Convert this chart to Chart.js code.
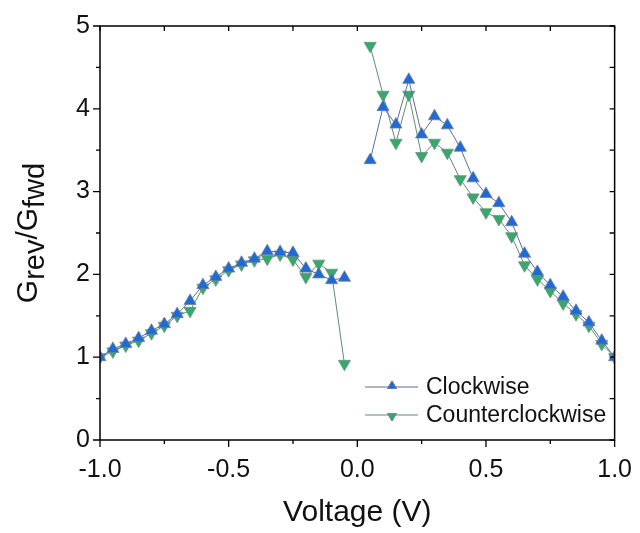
<!DOCTYPE html>
<html>
<head>
<meta charset="utf-8">
<script src="https://cdn.jsdelivr.net/npm/chart.js@4/dist/chart.umd.min.js"></script>
<style>
  body { margin: 0; background: #fff; }
  #wrap { width: 640px; height: 533px; }
</style>
</head>
<body>
<div id="wrap"><canvas id="ratioChart" width="640" height="533"></canvas></div>
<script>
// voltage steps, left branch (-1.0 .. -0.05) and right branch (0.05 .. 1.0)
const voltage = [-1.0, -0.95, -0.9, -0.85, -0.8, -0.75, -0.7, -0.65, -0.6, -0.55,
                 -0.5, -0.45, -0.4, -0.35, -0.3, -0.25, -0.2, -0.15, -0.1, -0.05,
                 0.0,
                 0.05, 0.1, 0.15, 0.2, 0.25, 0.3, 0.35, 0.4, 0.45, 0.5,
                 0.55, 0.6, 0.65, 0.7, 0.75, 0.8, 0.85, 0.9, 0.95, 1.0];

// null at 0.0 breaks the line between the two branches
const clockwise = [1.0, 1.10, 1.16, 1.23, 1.32, 1.40, 1.52, 1.68, 1.87, 1.97,
                   2.07, 2.14, 2.19, 2.28, 2.27, 2.26, 2.07, 2.00, 1.93, 1.96,
                   null,
                   3.38, 4.02, 3.81, 4.35, 3.69, 3.91, 3.80, 3.53, 3.16, 2.97,
                   2.86, 2.63, 2.25, 2.03, 1.87, 1.73, 1.56, 1.42, 1.20, 1.0];

const counterclockwise = [1.0, 1.07, 1.14, 1.20, 1.29, 1.38, 1.50, 1.56, 1.84, 1.94,
                          2.05, 2.12, 2.17, 2.19, 2.24, 2.18, 1.97, 2.13, 2.02, 0.92,
                          null,
                          4.76, 4.17, 3.59, 4.17, 3.43, 3.59, 3.47, 3.15, 2.93, 2.75,
                          2.67, 2.46, 2.11, 1.94, 1.80, 1.65, 1.52, 1.38, 1.16, 1.0];

const xTicks = [-1.0, -0.5, 0.0, 0.5, 1.0];
const yTicks = [0, 1, 2, 3, 4, 5];
const seriesNames = ['Clockwise', 'Counterclockwise'];

const FONT = 'Arial, "Liberation Sans", sans-serif';

function toPoints(ys) {
    return voltage.map(function (v, i) { return { x: v, y: ys[i] }; });
}

function isMajor(list, value) {
    return list.some(function (t) { return Math.abs(t - value) < 1e-6; });
}

// frame + ticks (major/minor), y title with subscripts, legend inside plot
var framePlugin = {
    id: 'frame',
    afterDraw: function (chart) {
        var ctx = chart.ctx;
        var area = chart.chartArea;
        var xs = chart.scales.x;
        var ys = chart.scales.y;
        ctx.save();
        ctx.strokeStyle = '#000';
        ctx.lineWidth = 1.5;
        ctx.beginPath();
        ctx.rect(area.left, area.top, area.right - area.left, area.bottom - area.top);
        ctx.stroke();

        ctx.lineWidth = 1.3;
        ctx.beginPath();
        for (var k = 0; k <= 8; k++) {
            var v = -1 + k * 0.25;
            var px = xs.getPixelForValue(v);
            var len = isMajor(xTicks, v) ? 7 : 4;
            ctx.moveTo(px, area.bottom);
            ctx.lineTo(px, area.bottom + len);
            ctx.moveTo(px, area.top);
            ctx.lineTo(px, area.top + 5);
        }
        for (var j = 0; j <= 10; j++) {
            var w = j * 0.5;
            var py = ys.getPixelForValue(w);
            var ylen = isMajor(yTicks, w) ? 7 : 4;
            ctx.moveTo(area.left, py);
            ctx.lineTo(area.left - ylen, py);
            ctx.moveTo(area.right, py);
            ctx.lineTo(area.right - 5, py);
        }
        ctx.stroke();

        // y axis title: G_rev / G_fwd (subscripts about as big as the G)
        ctx.translate(27, (area.top + area.bottom) / 2);
        ctx.rotate(-Math.PI / 2);
        ctx.fillStyle = '#111';
        ctx.textBaseline = 'alphabetic';
        var big = '30px ' + FONT, small = '29px ' + FONT;
        var parts = [['G', big, 0], ['rev', small, 7], ['/G', big, 0], ['fwd', small, 7]];
        var total = 0;
        parts.forEach(function (p) { ctx.font = p[1]; total += ctx.measureText(p[0]).width; });
        var cx = -total / 2;
        parts.forEach(function (p) {
            ctx.font = p[1];
            ctx.fillText(p[0], cx, 10 + p[2]);
            cx += ctx.measureText(p[0]).width;
        });
        ctx.restore();

        // legend
        ctx.save();
        var rows = [387, 415];
        chart.data.datasets.forEach(function (ds, i) {
            var y = rows[i];
            ctx.strokeStyle = ds.borderColor;
            ctx.lineWidth = 1;
            ctx.beginPath();
            ctx.moveTo(365, y);
            ctx.lineTo(418, y);
            ctx.stroke();
            Chart.helpers.drawPoint(ctx, {
                pointStyle: 'triangle',
                radius: 5,
                rotation: ds.pointRotation,
                borderWidth: 0.8
            }, 392, y + (i === 0 ? -1 : 1));
            ctx.fillStyle = ds.pointBackgroundColor;
            ctx.strokeStyle = ds.pointBorderColor;
            ctx.fill();
            ctx.stroke();
            ctx.fillStyle = '#111';
            ctx.font = '23px ' + FONT;
            ctx.textBaseline = 'middle';
            ctx.fillText(seriesNames[i], 426, y + 1);
        });
        ctx.restore();
    }
};

var ratioConfig = {
    type: 'line',
    data: {
        datasets: [{
            label: seriesNames[0],
            data: toPoints(clockwise),
            borderColor: '#5b6f98',
            borderWidth: 1,
            pointStyle: 'triangle',
            pointRotation: 0,
            pointRadius: 7,
            pointBackgroundColor: '#1f6ad6',
            pointBorderColor: '#6d7f9c',
            pointBorderWidth: 0.8,
            spanGaps: false,
            fill: false
        }, {
            label: seriesNames[1],
            data: toPoints(counterclockwise),
            borderColor: '#5e8b78',
            borderWidth: 1,
            pointStyle: 'triangle',
            pointRotation: 180,
            pointRadius: 7,
            pointBackgroundColor: '#36a86a',
            pointBorderColor: '#6c9284',
            pointBorderWidth: 0.8,
            spanGaps: false,
            fill: false
        }]
    },
    options: {
        responsive: false,
        animation: false,
        layout: { padding: { top: 26, right: 23, left: 0, bottom: 0 } },
        plugins: {
            legend: { display: false },
            tooltip: { enabled: false }
        },
        scales: {
            x: {
                type: 'linear',
                min: -1,
                max: 1,
                afterBuildTicks: function (scale) {
                    scale.ticks = xTicks.map(function (v) { return { value: v }; });
                },
                afterFit: function (scale) { scale.height = 93; },
                grid: { drawOnChartArea: false, color: 'rgba(0,0,0,0)', tickLength: 7 },
                border: { display: false },
                ticks: {
                    color: '#111',
                    font: { family: FONT, size: 25 },
                    padding: 8,
                    maxRotation: 0,
                    callback: function (value) { return value.toFixed(1); }
                },
                title: {
                    display: true,
                    text: 'Voltage (V)',
                    color: '#111',
                    font: { family: FONT, size: 30 },
                    padding: { top: 4, bottom: 2 }
                }
            },
            y: {
                type: 'linear',
                min: 0,
                max: 5,
                afterBuildTicks: function (scale) {
                    scale.ticks = yTicks.map(function (v) { return { value: v }; });
                },
                afterFit: function (scale) { scale.width = 100; },
                grid: { drawOnChartArea: false, color: 'rgba(0,0,0,0)', tickLength: 7 },
                border: { display: false },
                ticks: {
                    color: '#111',
                    font: { family: FONT, size: 25 },
                    padding: 3,
                    callback: function (value) { return String(value); }
                }
            }
        }
    },
    plugins: [framePlugin]
};

window.onload = function () {
    var ctx = document.getElementById('ratioChart').getContext('2d');
    window.ratioChart = new Chart(ctx, ratioConfig);
};
</script>
</body>
</html>
